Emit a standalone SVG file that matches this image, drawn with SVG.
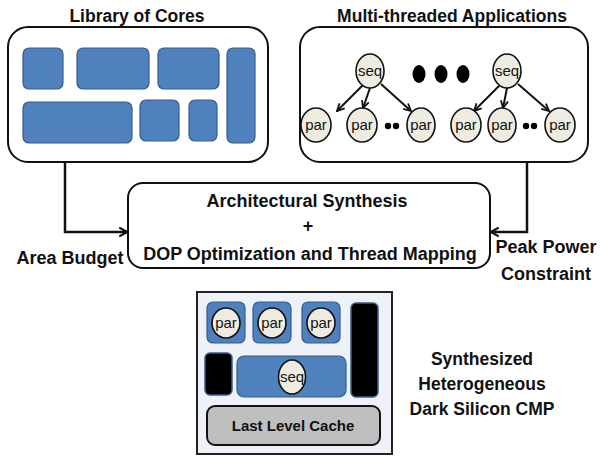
<svg xmlns="http://www.w3.org/2000/svg" width="600" height="456" viewBox="0 0 600 456">
  <style>
    .lbl { font-family: "Liberation Sans", Arial, sans-serif; font-weight: bold; fill: #111; }
    .panel { fill: #fff; stroke: #111; stroke-width: 2; }
    .core { fill: #4f81bd; stroke: #385d8a; stroke-width: 1.2; }
    .dark { fill: #000; stroke: #385d8a; stroke-width: 1.5; }
    .task { fill: #eeece1; stroke: #111; stroke-width: 1.6; }
    .tt { font-family: "Liberation Sans", Arial, sans-serif; font-size: 15px; fill: #111; text-anchor: middle; }
    .edge { fill: none; stroke: #111; stroke-width: 2; }
    .wire { fill: none; stroke: #111; stroke-width: 2.5; }
  </style>
  <defs>
    <marker id="arr" viewBox="0 0 10 10" refX="9" refY="5" markerWidth="9" markerHeight="9" orient="auto" markerUnits="userSpaceOnUse">
      <path d="M1,1 L9,5 L1,9" fill="none" stroke="#111" stroke-width="2"/>
    </marker>
    <marker id="arrBig" viewBox="0 0 10 10" refX="9" refY="5" markerWidth="11" markerHeight="11" orient="auto" markerUnits="userSpaceOnUse">
      <path d="M2,1 L9,5 L2,9" fill="none" stroke="#111" stroke-width="2"/>
    </marker>
  </defs>

  <!-- core library -->
  <g id="library">
    <text class="lbl" x="137" y="22" font-size="17.5" text-anchor="middle">Library of Cores</text>
    <rect class="panel" x="8" y="27" width="260" height="135" rx="20"/>
    <rect class="core" x="23" y="48" width="40" height="41" rx="6"/>
    <rect class="core" x="77" y="48" width="72" height="41" rx="6"/>
    <rect class="core" x="158" y="48" width="61" height="41" rx="6"/>
    <rect class="core" x="227" y="48" width="28" height="95" rx="6"/>
    <rect class="core" x="23" y="102" width="109" height="41" rx="6"/>
    <rect class="core" x="140" y="100" width="39" height="41" rx="6"/>
    <rect class="core" x="189" y="100" width="28" height="41" rx="6"/>
  </g>

  <!-- application task graphs -->
  <g id="applications">
    <text class="lbl" x="452" y="22" font-size="17.5" text-anchor="middle">Multi-threaded Applications</text>
    <rect class="panel" x="300" y="27" width="288" height="135" rx="20"/>
    <g id="app1-edges">
      <line class="edge" x1="363" y1="85" x2="337" y2="111" marker-end="url(#arr)"/>
      <line class="edge" x1="370" y1="88" x2="363" y2="108" marker-end="url(#arr)"/>
      <line class="edge" x1="381" y1="84" x2="411" y2="111" marker-end="url(#arr)"/>
    </g>
    <g id="app2-edges">
      <line class="edge" x1="500" y1="85" x2="474" y2="111" marker-end="url(#arr)"/>
      <line class="edge" x1="507" y1="88" x2="503" y2="108" marker-end="url(#arr)"/>
      <line class="edge" x1="518" y1="84" x2="549" y2="111" marker-end="url(#arr)"/>
    </g>
    <g id="seq1"><ellipse class="task" cx="370" cy="71" rx="14" ry="17"/><text class="tt" x="370" y="76">seq</text></g>
    <g id="par1"><ellipse class="task" cx="316" cy="125" rx="15" ry="17"/><text class="tt" x="316" y="130">par</text></g>
    <g id="par2"><ellipse class="task" cx="362" cy="125" rx="15" ry="17"/><text class="tt" x="362" y="130">par</text></g>
    <g id="par3"><ellipse class="task" cx="421" cy="125" rx="14" ry="17"/><text class="tt" x="421" y="130">par</text></g>
    <circle cx="388" cy="126" r="3.2" fill="#000"/>
    <circle cx="396" cy="126" r="3.2" fill="#000"/>
    <ellipse cx="419" cy="74" rx="6.5" ry="9" fill="#000"/>
    <ellipse cx="441" cy="74" rx="6.5" ry="9" fill="#000"/>
    <ellipse cx="463" cy="74" rx="6.5" ry="9" fill="#000"/>
    <g id="seq2"><ellipse class="task" cx="507" cy="71" rx="14" ry="17"/><text class="tt" x="507" y="76">seq</text></g>
    <g id="par4"><ellipse class="task" cx="466" cy="125" rx="15" ry="17"/><text class="tt" x="466" y="130">par</text></g>
    <g id="par5"><ellipse class="task" cx="502" cy="125" rx="14" ry="17"/><text class="tt" x="502" y="130">par</text></g>
    <g id="par6"><ellipse class="task" cx="560" cy="125" rx="15" ry="17"/><text class="tt" x="560" y="130">par</text></g>
    <circle cx="526" cy="126" r="3.2" fill="#000"/>
    <circle cx="534" cy="126" r="3.2" fill="#000"/>
  </g>

  <!-- inputs into synthesis -->
  <g id="connectors">
    <path class="wire" d="M65,162 V232 H127" marker-end="url(#arrBig)"/>
    <path class="wire" d="M527,162 V232 H491" marker-end="url(#arrBig)"/>
  </g>

  <g id="synthesis">
    <rect class="panel" x="128" y="183" width="362" height="85" rx="15"/>
    <text class="lbl" x="307" y="207" font-size="18" text-anchor="middle">Architectural Synthesis</text>
    <text class="lbl" x="308" y="232" font-size="18" text-anchor="middle">+</text>
    <text class="lbl" x="310" y="260" font-size="18" text-anchor="middle">DOP Optimization and Thread Mapping</text>
  </g>

  <g id="area-budget">
    <text class="lbl" x="70" y="264" font-size="18" text-anchor="middle">Area Budget</text>
  </g>
  <g id="power-constraint">
    <text class="lbl" x="546" y="253" font-size="18" text-anchor="middle">Peak Power</text>
    <text class="lbl" x="546" y="280" font-size="18" text-anchor="middle">Constraint</text>
  </g>

  <!-- resulting chip -->
  <g id="cmp">
    <rect x="197" y="292" width="195" height="162" fill="#eef2f8" stroke="#222" stroke-width="2"/>
    <rect class="core" x="207" y="302" width="38" height="41" rx="6"/>
    <rect class="core" x="253" y="302" width="38" height="41" rx="6"/>
    <rect class="core" x="302" y="302" width="38" height="41" rx="6"/>
    <rect class="dark" x="351" y="303" width="27" height="94" rx="5"/>
    <rect class="dark" x="205" y="353" width="27" height="42" rx="5"/>
    <rect class="core" x="237" y="356" width="109" height="41" rx="7"/>
    <ellipse class="task" cx="226" cy="323" rx="14" ry="15"/><text class="tt" x="226" y="328">par</text>
    <ellipse class="task" cx="272" cy="323" rx="14" ry="15"/><text class="tt" x="272" y="328">par</text>
    <ellipse class="task" cx="321" cy="323" rx="14" ry="15"/><text class="tt" x="321" y="328">par</text>
    <ellipse class="task" cx="292" cy="377" rx="13.5" ry="17"/><text class="tt" x="292" y="382">seq</text>
    <rect x="207" y="406" width="173" height="39" rx="8" fill="#bfbfbf" stroke="#111" stroke-width="2"/>
    <text class="lbl" x="293" y="431" font-size="15" text-anchor="middle">Last Level Cache</text>
  </g>

  <g id="cmp-caption">
    <text class="lbl" x="482" y="365" font-size="17.5" text-anchor="middle">Synthesized</text>
    <text class="lbl" x="482" y="390" font-size="17.5" text-anchor="middle">Heterogeneous</text>
    <text class="lbl" x="482" y="415" font-size="17.5" text-anchor="middle">Dark Silicon CMP</text>
  </g>
</svg>
